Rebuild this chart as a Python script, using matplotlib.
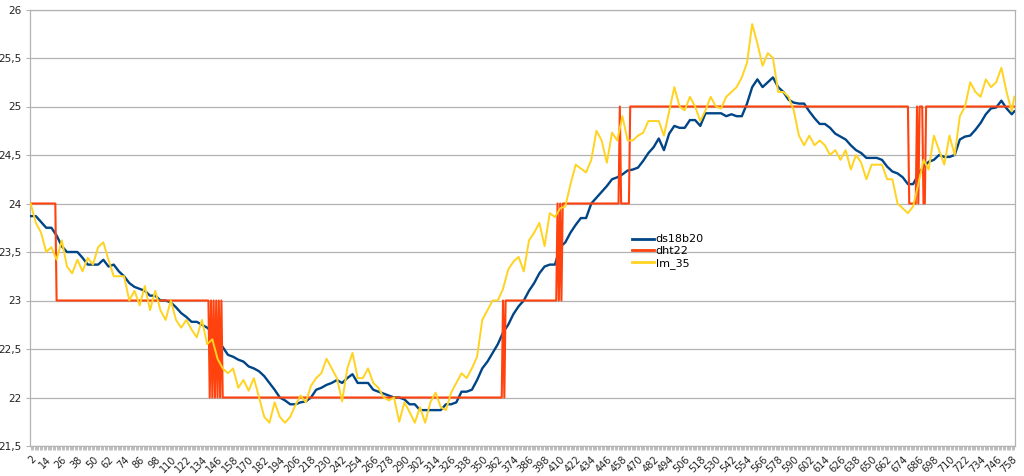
"""
plot.py -- three temperature sensors (ds18b20 / dht22 / lm_35) over ~760 samples,
drawn like the LibreOffice line chart: comma decimals, labels every 12 samples.
"""

import matplotlib
matplotlib.use("Agg")                       # no display
import matplotlib.pyplot as plt
from matplotlib.lines import Line2D

# sample index of the first/last point of the x axis
FIRST_CAT = 2
LAST_CAT = 760

# ds18b20 / lm_35 values every 4 samples (2, 6, 10, ... 758) plus 760
SAMPLE_CATS = list(range(2, 759, 4)) + [760]

DS18B20 = [
    23.87, 23.87, 23.81, 23.75, 23.75, 23.67, 23.56, 23.50, 23.50, 23.50,
    23.44, 23.37, 23.37, 23.37, 23.42, 23.35, 23.37, 23.30, 23.25, 23.18,
    23.14, 23.12, 23.10, 23.05, 23.05, 23.00, 23.00, 22.98, 22.93, 22.87,
    22.83, 22.78, 22.78, 22.75, 22.72, 22.67, 22.60, 22.52, 22.44, 22.42,
    22.39, 22.37, 22.32, 22.30, 22.27, 22.22, 22.15, 22.08, 22.00, 21.97,
    21.93, 21.93, 21.95, 21.96, 22.00, 22.08, 22.10, 22.13, 22.15, 22.18,
    22.15, 22.20, 22.24, 22.15, 22.15, 22.15, 22.08, 22.06, 22.04, 22.02,
    22.00, 22.00, 21.98, 21.93, 21.93, 21.87, 21.87, 21.87, 21.87, 21.87,
    21.93, 21.93, 21.95, 22.06, 22.06, 22.08, 22.18, 22.30, 22.37, 22.46,
    22.55, 22.67, 22.75, 22.86, 22.94, 23.00, 23.10, 23.18, 23.28, 23.35,
    23.37, 23.37, 23.55, 23.60, 23.70, 23.78, 23.85, 23.85, 24.00, 24.06,
    24.12, 24.18, 24.25, 24.27, 24.30, 24.34, 24.35, 24.37, 24.44, 24.52,
    24.58, 24.67, 24.55, 24.72, 24.80, 24.78, 24.78, 24.86, 24.86, 24.80,
    24.93, 24.93, 24.93, 24.93, 24.90, 24.92, 24.90, 24.90, 25.03, 25.20,
    25.28, 25.20, 25.25, 25.30, 25.20, 25.15, 25.07, 25.04, 25.03, 25.03,
    24.95, 24.88, 24.82, 24.82, 24.78, 24.72, 24.69, 24.66, 24.60, 24.55,
    24.52, 24.47, 24.47, 24.47, 24.45, 24.38, 24.33, 24.31, 24.27, 24.20,
    24.20, 24.30, 24.38, 24.43, 24.45, 24.50, 24.48, 24.48, 24.50, 24.66,
    24.69, 24.70, 24.76, 24.83, 24.92, 24.98, 24.99, 25.06, 24.98, 24.92,
    24.95,
]

LM_35 = [
    24.00, 23.80, 23.70, 23.50, 23.55, 23.42, 23.62, 23.35, 23.28, 23.42,
    23.30, 23.44, 23.37, 23.55, 23.60, 23.42, 23.25, 23.25, 23.25, 23.00,
    23.10, 22.95, 23.15, 22.90, 23.10, 22.90, 22.80, 23.00, 22.80, 22.72,
    22.80, 22.70, 22.62, 22.80, 22.55, 22.60, 22.40, 22.30, 22.25, 22.30,
    22.10, 22.18, 22.07, 22.20, 22.00, 21.80, 21.74, 21.95, 21.80, 21.74,
    21.80, 21.92, 22.02, 21.95, 22.12, 22.20, 22.25, 22.40, 22.30, 22.20,
    21.96, 22.30, 22.46, 22.20, 22.20, 22.30, 22.15, 22.10, 22.00, 21.97,
    22.00, 21.75, 21.95, 21.85, 21.74, 21.90, 21.74, 21.95, 22.05, 21.90,
    21.87, 22.05, 22.15, 22.25, 22.20, 22.30, 22.42, 22.80, 22.90, 23.00,
    23.00, 23.12, 23.32, 23.40, 23.45, 23.30, 23.62, 23.70, 23.80, 23.56,
    23.90, 23.86, 23.95, 23.97, 24.20, 24.40, 24.36, 24.32, 24.45, 24.75,
    24.65, 24.42, 24.73, 24.65, 24.90, 24.65, 24.65, 24.70, 24.73, 24.85,
    24.85, 24.85, 24.70, 24.95, 25.20, 25.00, 24.96, 25.10, 25.00, 24.85,
    24.96, 25.10, 25.00, 24.98, 25.10, 25.15, 25.20, 25.30, 25.45, 25.85,
    25.65, 25.42, 25.55, 25.50, 25.15, 25.15, 25.10, 24.96, 24.70, 24.60,
    24.70, 24.60, 24.65, 24.60, 24.50, 24.55, 24.45, 24.55, 24.35, 24.50,
    24.42, 24.25, 24.40, 24.40, 24.40, 24.25, 24.25, 24.00, 23.95, 23.90,
    23.97, 24.20, 24.45, 24.35, 24.70, 24.55, 24.40, 24.70, 24.50, 24.90,
    25.00, 25.25, 25.15, 25.10, 25.28, 25.20, 25.25, 25.40, 25.15, 24.95,
    25.10,
]

# dht22 only reports whole degrees: (first sample, value) for every change
DHT22_RUNS = [
    (2, 24), (22, 23),
    (140, 22), (141, 23), (142, 22), (143, 23), (144, 22), (145, 23),
    (146, 22), (147, 23), (148, 22), (149, 23), (150, 22),
    (366, 23), (367, 22), (368, 23),
    (408, 24), (409, 23), (410, 24), (411, 23), (412, 24),
    (456, 25), (457, 24), (464, 25),
    (679, 24), (685, 25), (686, 24), (687, 25), (690, 24), (692, 25),
]

Y_TICKS = [21.5, 22, 22.5, 23, 23.5, 24, 24.5, 25, 25.5, 26]
Y_LABELS = ["21,5", "22", "22,5", "23", "23,5", "24", "24,5", "25", "25,5", "26"]
X_LABEL_STEP = 12

SERIES_COLORS = {"ds18b20": "#004586", "dht22": "#ff420e", "lm_35": "#ffd320"}
GRID = "#b3b3b3"


def expand_runs(runs, last):
    """Turn (start, value) runs into one value per sample."""
    cats, vals = [], []
    for i, (start, v) in enumerate(runs):
        end = runs[i + 1][0] if i + 1 < len(runs) else last + 1
        for c in range(start, end):
            cats.append(c)
            vals.append(v)
    return cats, vals


def build(out_path):
    fig = plt.figure(figsize=(10.24, 4.76), dpi=100)
    ax = fig.add_axes([30 / 1024, 1 - 446 / 476, 985 / 1024, 436.5 / 476])

    dht_x, dht_y = expand_runs(DHT22_RUNS, LAST_CAT)
    ax.plot(SAMPLE_CATS, DS18B20, color=SERIES_COLORS["ds18b20"], lw=1.7, zorder=3)
    ax.plot(dht_x, dht_y, color=SERIES_COLORS["dht22"], lw=1.5, zorder=4)
    ax.plot(SAMPLE_CATS, LM_35, color=SERIES_COLORS["lm_35"], lw=1.4, zorder=5)

    # axes: light grey frame + horizontal grid
    ax.set_xlim(FIRST_CAT - 0.5, LAST_CAT + 0.5)
    ax.set_ylim(21.5, 26)
    ax.set_yticks(Y_TICKS)
    ax.set_yticklabels(Y_LABELS)
    ax.yaxis.grid(True, color=GRID, lw=0.9)
    ax.set_axisbelow(True)
    for s in ax.spines.values():
        s.set_color(GRID)
        s.set_linewidth(0.9)

    label_cats = list(range(FIRST_CAT, LAST_CAT, X_LABEL_STEP))
    ax.set_xticks(label_cats)
    ax.set_xticklabels([str(c) for c in label_cats], rotation=45, ha="right",
                       va="top", rotation_mode="anchor")
    ax.set_xticks(list(range(FIRST_CAT, LAST_CAT + 1)), minor=True)
    ax.tick_params(axis="x", which="both", length=3, width=0.6, color=GRID,
                   labelsize=7, labelcolor="#222222", pad=3)
    ax.tick_params(axis="y", length=3, width=0.8, color=GRID, labelsize=7.5,
                   labelcolor="#222222", pad=3)

    # legend sits inside the plot, no frame
    handles = [Line2D([0], [0], color=SERIES_COLORS[k], lw=2) for k in SERIES_COLORS]
    fig.legend(handles, list(SERIES_COLORS), loc="upper left",
               bbox_to_anchor=(628 / 1024, 1 - 230 / 476), frameon=False,
               fontsize=8, handlelength=1.9, handletextpad=0.2, labelspacing=0.15,
               borderaxespad=0)

    fig.savefig(out_path, dpi=100)
    plt.close(fig)


if __name__ == "__main__":
    build("out.png")
